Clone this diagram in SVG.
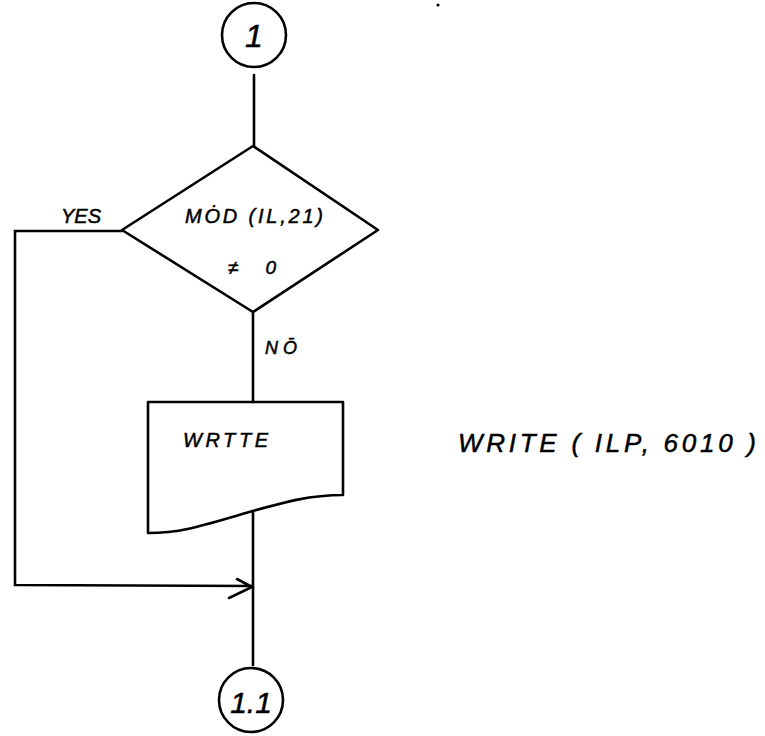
<svg xmlns="http://www.w3.org/2000/svg" width="765" height="736" viewBox="0 0 765 736">
  <style>
    .shape { fill: none; stroke: #000; stroke-width: 2.6; stroke-linejoin: round; stroke-linecap: round; }
    .line { fill: none; stroke: #000; stroke-width: 2.6; stroke-linecap: round; }
    .hand { font-family: "Liberation Sans", "DejaVu Sans", sans-serif; font-style: italic; fill: #000; stroke: #000; stroke-width: 0.5; }
  </style>
  <rect width="765" height="736" fill="#fff"/>

  <g id="connector-top">
    <circle class="shape" cx="254" cy="35" r="32"/>
    <text class="hand" x="254" y="47" font-size="32" text-anchor="middle">1</text>
  </g>

  <g id="decision">
    <polygon class="shape" points="253,146 378,230 253,312 122,230"/>
    <text class="hand" x="185" y="223" font-size="20" textLength="138" lengthAdjust="spacing">MȮD (IL,21)</text>
    <text class="hand" x="228" y="274" font-size="19" textLength="48" lengthAdjust="spacing">≠  0</text>
  </g>

  <g id="write-doc">
    <path class="shape" d="M148,402 L343,402 L343,495 C310,495 285,502 253,511 C210,523 185,533 148,533 Z"/>
    <text class="hand" x="183" y="447" font-size="20" textLength="85" lengthAdjust="spacing">WRTTE</text>
  </g>

  <g id="connector-bottom">
    <circle class="shape" cx="251" cy="700" r="32"/>
    <text class="hand" x="251" y="713" font-size="30" text-anchor="middle">1.1</text>
  </g>

  <g id="connectors">
    <line class="line" x1="254" y1="75" x2="254" y2="146"/>
    <line class="line" x1="253" y1="312" x2="253" y2="402"/>
    <line class="line" x1="253" y1="511" x2="253" y2="665"/>
    <polyline class="line" points="122,231 15,231 15,585 252,586"/>
    <polyline class="line" points="237,579 252,587 229,598"/>
  </g>

  <g id="labels">
    <text class="hand" x="61" y="223" font-size="20" textLength="40" lengthAdjust="spacing">YES</text>
    <text class="hand" x="265" y="354" font-size="18" textLength="32" lengthAdjust="spacing">NŌ</text>
    <text class="hand" x="458" y="452" font-size="26" textLength="298" lengthAdjust="spacing">WRITE ( ILP, 6010 )</text>
  </g>

  <circle cx="438" cy="5" r="1.6" fill="#000"/>
</svg>
